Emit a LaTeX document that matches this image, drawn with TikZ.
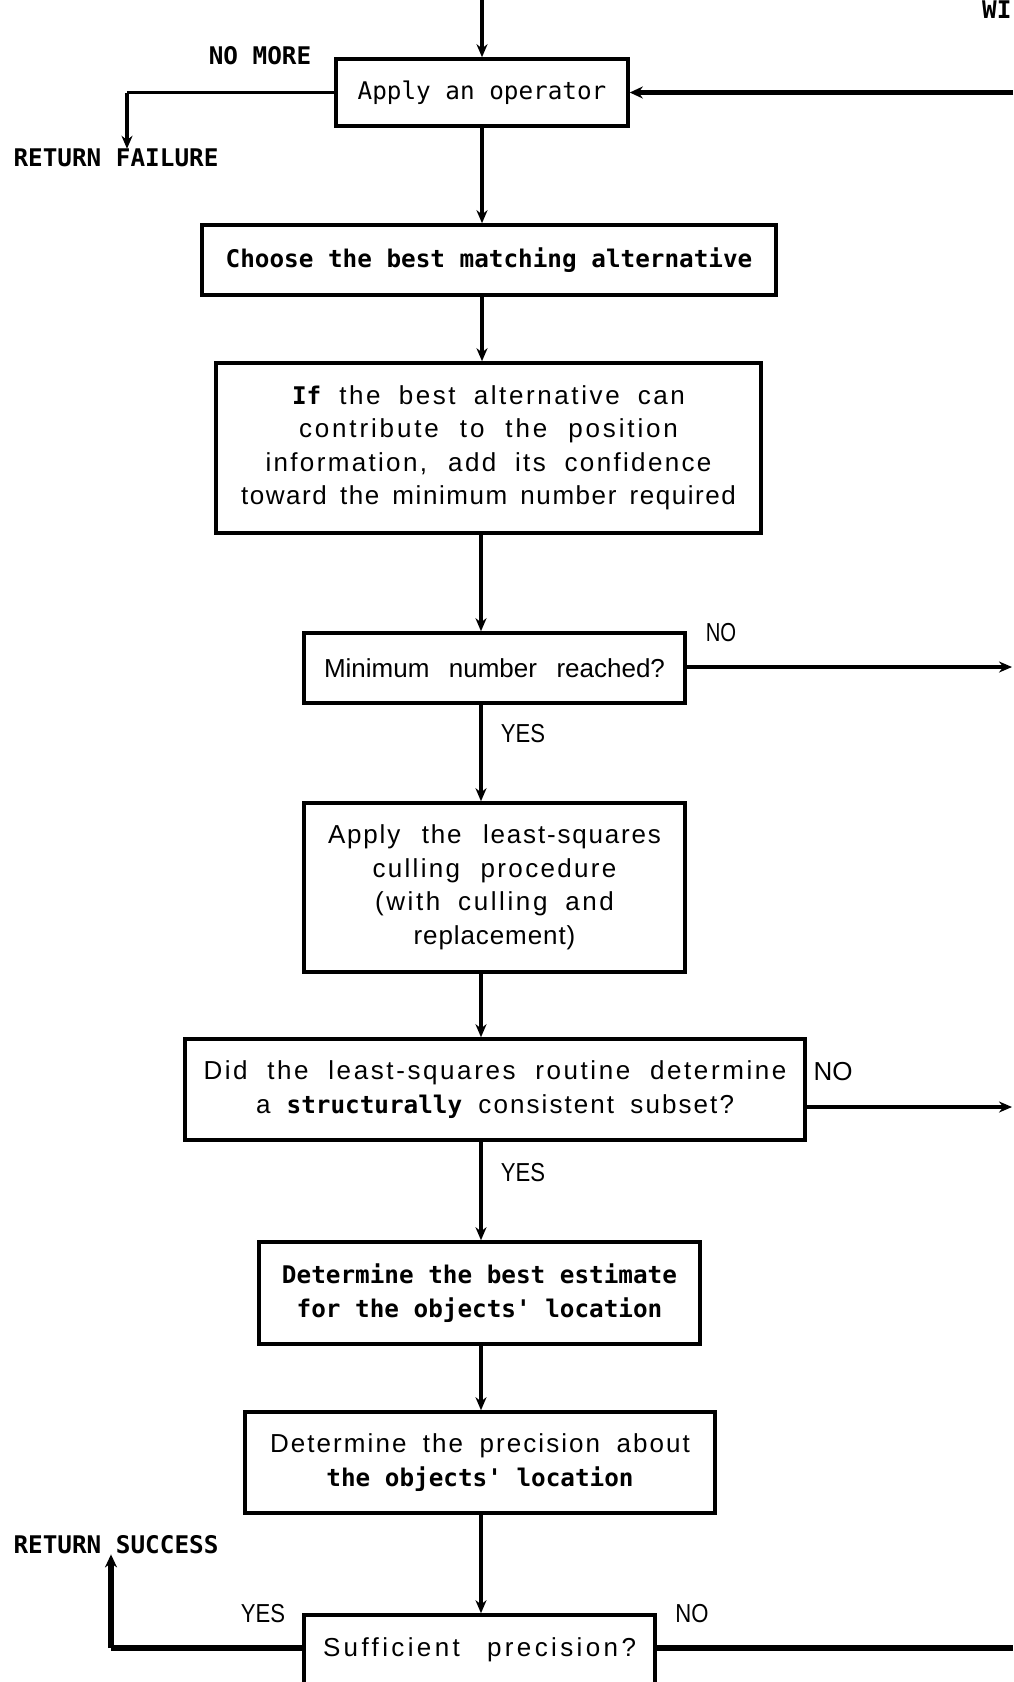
\documentclass[tikz,border=0pt]{standalone}
\usepackage{fontspec}
\setmainfont{Liberation Sans}
\newfontfamily\plotfont{DejaVu Sans Mono}
\usetikzlibrary{arrows.meta}
\newcommand{\arl}{\fontsize{26}{33.5}\selectfont}
\newcommand{\plt}{\plotfont\fontsize{24.3}{33.5}\selectfont}
\newcommand{\pltb}{\plotfont\bfseries\fontsize{24.3}{33.5}\selectfont}
\newcommand{\sline}[3]{\makebox[#1pt][s]{\addfontfeature{LetterSpace=#2}#3}}
\tikzset{
  box/.style={draw, line width=3.6pt, inner sep=0pt, align=center, font=\arl},
  conn/.style={line width=3.2pt},
  arr/.style={line width=3.2pt, -{Stealth[length=13pt,width=11pt]}},
  thick conn/.style={line width=5.5pt},
  thick arr/.style={line width=5.5pt, -{Stealth[length=13pt,width=12pt]}},
  lbl/.style={inner sep=0pt, font=\arl},
  plbl/.style={inner sep=0pt, font=\pltb},
}
\begin{document}
\begin{tikzpicture}[x=1pt,y=-1pt]
\useasboundingbox (0,0) rectangle (1013,1682);
% spine
\coordinate (sp) at (481,0);
\coordinate (top) at (482,0);
% boxes
\node[box, minimum width=292pt, minimum height=67pt, font=\plt] (apply) at (482,92.5) {Apply an operator};
\node[box, minimum width=574pt, minimum height=70pt, font=\pltb] (choose) at (489,260) {Choose the best matching alternative};
\node[box, minimum width=545pt, minimum height=170pt] (ifbox) at (488.5,448)
  {\sline{393}{10}{{\pltb If} the best alternative can}\\
   \sline{379}{11}{contribute to the position}\\
   \sline{446}{9}{information, add its confidence}\\
   \sline{495}{6}{toward the minimum number required}};
\node[box, minimum width=381pt, minimum height=70pt] (minbox) at (494.5,668)
  {\sline{341}{0}{Minimum number reached?}};
\node[box, minimum width=381pt, minimum height=169pt] (lsq) at (494.5,887.5)
  {\sline{333}{7}{Apply the least-squares}\\
   \sline{244}{9}{culling procedure}\\
   \sline{239}{10}{(with culling and}\\
   {\addfontfeature{LetterSpace=3.5}replacement)}};
\node[box, minimum width=620pt, minimum height=101pt] (did) at (495,1089.5)
  {\sline{583}{10}{Did the least-squares routine determine}\\
   \sline{478}{8}{a {\pltb structurally} consistent subset?}};
\node[box, minimum width=441pt, minimum height=102pt, font=\pltb] (best) at (479.5,1293)
  {Determine the best estimate\\for the objects' location};
\node[box, minimum width=470pt, minimum height=101pt] (prec) at (480,1462.5)
  {\sline{420}{8}{Determine the precision about}\\
   {\pltb the objects' location}};
\node[box, minimum width=351pt, minimum height=70pt] (suff) at (479.5,1650)
  {\sline{313}{13}{Sufficient precision?}};
% labels
\node[plbl] (nomore) at (260,56) {NO MORE};
\node[plbl] (rfail) at (116,158) {RETURN FAILURE};
\node[plbl] (rsucc) at (116,1545) {RETURN SUCCESS};
\node[plbl, anchor=north west] (wi) at (982,1) {WI};
\node[lbl] (no1) at (721,633) {\scalebox{0.78}[1]{NO}};
\node[lbl] (yes1) at (523,734) {\scalebox{0.85}[1]{YES}};
\node[lbl] (no2) at (833,1072) {NO};
\node[lbl] (yes2) at (523,1173) {\scalebox{0.85}[1]{YES}};
\node[lbl] (yes3) at (263,1614) {\scalebox{0.85}[1]{YES}};
\node[lbl] (no3) at (692,1614) {\scalebox{0.85}[1]{NO}};
% right edge coordinates
\coordinate (eapply) at (1013,92.5);
\coordinate (emin) at (1012,667);
\coordinate (edid) at (1012,1107);
\coordinate (esuff) at (1013,1648);
\coordinate (lfail) at (127,92.5);
\coordinate (lsucc) at (111,1648);
% connectors
\draw[arr] (top) -- (apply.north -| top);
\draw[arr] (apply.south -| top) -- (choose.north -| top);
\draw[arr] (choose.south -| top) -- (ifbox.north -| top);
\draw[arr] (ifbox.south -| sp) -- (minbox.north -| sp);
\draw[arr] (minbox.south -| sp) -- (lsq.north -| sp);
\draw[arr] (lsq.south -| sp) -- (did.north -| sp);
\draw[arr] (did.south -| sp) -- (best.north -| sp);
\draw[arr] (best.south -| sp) -- (prec.north -| sp);
\draw[arr] (prec.south -| sp) -- (suff.north -| sp);
\draw[thick arr] (eapply) -- (apply.east);
\draw[conn] (apply.west) -- (lfail);
\draw[arr] (lfail) -- (lfail |- rfail.north);
\draw[arr] (minbox.east |- emin) -- (emin);
\draw[arr] (did.east |- edid) -- (edid);
\draw[thick conn] (suff.east |- esuff) -- (esuff);
\draw[thick conn] (suff.west |- lsucc) -- (lsucc);
\draw[thick arr] (lsucc) -- (lsucc |- rsucc.south);
\end{tikzpicture}
\end{document}
